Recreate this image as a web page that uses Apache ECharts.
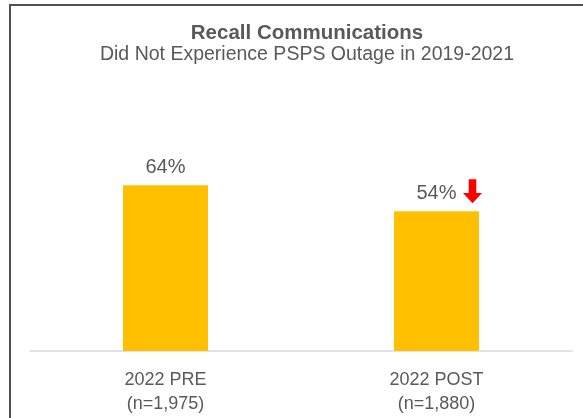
<!DOCTYPE html>
<html>
<head>
<meta charset="utf-8">
<script src="https://cdn.jsdelivr.net/npm/echarts@6/dist/echarts.min.js"></script>
<style>
  html, body { margin: 0; padding: 0; background: #fff; }
  #chart { width: 583px; height: 418px; }
</style>
</head>
<body>
<div id="chart"></div>
<script>
  // data
  var categories = ['2022 PRE\n(n=1,975)', '2022 POST\n(n=1,880)'];
  var values = [64, 54];
  var titleText = 'Recall Communications';
  var subtitleText = 'Did Not Experience PSPS Outage in 2019-2021';

  var chart = echarts.init(document.getElementById('chart'), null, { renderer: 'canvas' });

  var option = {
    animation: false,
    textStyle: { fontFamily: 'Liberation Sans, Arial, sans-serif' },
    title: {
      text: titleText,
      subtext: subtitleText,
      left: 302,
      textAlign: 'center',
      top: 18,
      itemGap: 1,
      textStyle: { fontSize: 20.5, fontWeight: 'bold', color: '#595959' },
      subtextStyle: { fontSize: 19.5, color: '#595959' }
    },
    grid: { left: 30, right: 11, top: 92, bottom: 67 },
    xAxis: {
      type: 'category',
      data: categories,
      axisLine: { lineStyle: { color: '#d9d9d9', width: 1.5 } },
      axisTick: { show: false },
      axisLabel: { fontSize: 18, color: '#595959', lineHeight: 24, margin: 17 }
    },
    yAxis: {
      type: 'value',
      min: 0,
      max: 100,
      show: false
    },
    series: [{
      type: 'bar',
      data: values,
      barWidth: 85,
      itemStyle: { color: '#FFC000' },
      label: {
        show: true,
        position: 'top',
        distance: 8,
        fontSize: 20,
        color: '#595959',
        formatter: '{c}%'
      },
      markPoint: {
        silent: true,
        symbol: 'path://M3,0 L7,0 L7,11 L10,11 L5,19 L0,11 L3,11 Z',
        symbolSize: [19, 24],
        symbolOffset: [36, -20],
        itemStyle: { color: '#FF0000' },
        label: { show: false },
        data: [{ coord: [categories[1], values[1]] }]
      }
    }],
    graphic: [
      { type: 'line', shape: { x1: 9, y1: 5, x2: 583, y2: 5 }, style: { stroke: '#505050', lineWidth: 2 } },
      { type: 'line', shape: { x1: 10, y1: 4, x2: 10, y2: 418 }, style: { stroke: '#505050', lineWidth: 2 } }
    ]
  };

  chart.setOption(option);
</script>
</body>
</html>
